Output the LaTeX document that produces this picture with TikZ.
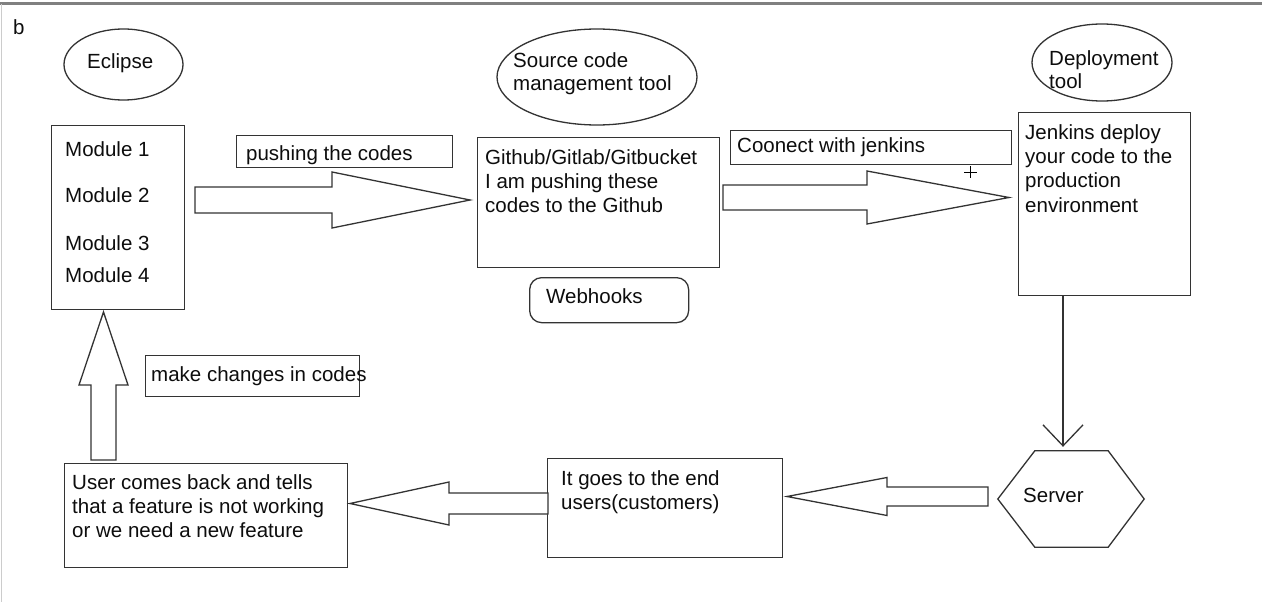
\documentclass[tikz,border=0pt]{standalone}
\usepackage{fontspec}
\setmainfont{Liberation Sans}
\usetikzlibrary{calc,arrows.meta,shapes.geometric}
\def\bigarrow[#1](#2)(#3:#4:#5:#6:#7){\draw[#1, shift={(#2)}, rotate=#3] (0,-#6) -- (#4,-#6) -- (#4,-#7) -- (#5,0) -- (#4,#7) -- (#4,#6) -- (0,#6) -- cycle;}

\begin{document}
\begin{tikzpicture}[x=1pt, y=-1pt,
		boxline/.style={draw=black!80, line width=1.3pt},
		box/.style={boxline, rectangle, inner sep=0pt, anchor=north west},
		oval/.style={boxline, ellipse, inner sep=0pt},
		txt/.style={inner sep=0pt, anchor=north west, align=left, text=black!95, font=\fontsize{20.5}{24}\selectfont},
		link/.style={boxline, -{Straight Barb[length=21pt, width=40pt]}},
		bigarr/.style={boxline, fill=white}]
		%%%%% START %%%%%
		
		\fill[white] (0,0) rectangle (1262,602);
		\useasboundingbox (0,0) rectangle (1262,602);
		\draw[black!50, line width=3pt] (0,4) -- (1262,4);
		\draw[black!20, line width=1pt] (1,4) -- (1,602);
		\node[txt] (tag) at (13,19) {b};
		
		\node[oval, minimum width=119, minimum height=71] (eclipse) at (123.5,64.5) {};
		\node[txt] (eclipseT) at (87,53) {Eclipse};
		\node[oval, minimum width=200, minimum height=96] (scm) at (597,77) {};
		\node[txt, font=\fontsize{20.5}{23}\selectfont] (scmT) at (513,52.5) {Source code\\management tool};
		\node[oval, minimum width=140, minimum height=77] (deploy) at (1102,62.5) {};
		\node[txt, font=\fontsize{20.5}{23}\selectfont] (deployT) at (1049,50) {Deployment\\tool};
		
		\node[box, minimum width=133, minimum height=184] (mods) at (51,125) {};
		\node[txt] (modsT) at (65,141.5) {Module 1\\[22pt]Module 2\\[24pt]Module 3\\[8pt]Module 4};
		\node[box, minimum width=216, minimum height=32] (push) at (236,134.5) {};
		\node[txt] (pushT) at (246,145.5) {pushing the codes};
		\node[box, minimum width=242, minimum height=130] (github) at (477,137) {};
		\node[txt] (githubT) at (485,149.5) {Github/Gitlab/Gitbucket\\I am pushing these\\codes to the Github};
		\node[box, rounded corners=12pt, minimum width=159, minimum height=45] (hooks) at (529,277) {};
		\node[txt] (hooksT) at (546,288) {Webhooks};
		\node[box, minimum width=281, minimum height=33.5] (connect) at (730,130) {};
		\node[txt] (connectT) at (737,137.5) {Coonect with jenkins};
		\node[box, minimum width=172, minimum height=183] (jenkins) at (1018,112) {};
		\node[txt, font=\fontsize{20.5}{24.3}\selectfont] (jenkinsT) at (1025,124.3) {Jenkins deploy\\your code to the\\production\\environment};
		
		\node[inner sep=0pt, minimum width=146, minimum height=96] (server) at (1071,499) {};
		\draw[boxline] (server.west) -- ($(server.north west)+(37,0)$) -- ($(server.north east)+(-36,0)$) -- (server.east) -- ($(server.south east)+(-36,0)$) -- ($(server.south west)+(37,0)$) -- cycle;
		\node[txt] (serverT) at (1023,488) {Server};
		\node[box, minimum width=235, minimum height=99] (endusers) at (547,458) {};
		\node[txt] (endusersT) at (561,470) {It goes to the end\\users(customers)};
		\node[box, minimum width=283, minimum height=104] (user) at (64,463) {};
		\node[txt] (userT) at (72,474) {User comes back and tells\\that a feature is not working\\or we need a new feature};
		\node[box, minimum width=214, minimum height=41] (change) at (145,355) {};
		\node[txt] (changeT) at (151,366.5) {make changes in codes};
		
		\bigarrow[bigarr](195,200)(0:137:275:13:28);
		\bigarrow[bigarr](723,197.5)(0:144:286:12.5:26.5);
		\bigarrow[bigarr](988,496.5)(180:101:201:9.5:19);
		\bigarrow[bigarr](548,503.5)(180:99:198:10.5:21.5);
		\bigarrow[bigarr](103.5,460)(90:75:148:12.5:24.5);
		
		\draw[link, shorten >=4pt] ($(jenkins.south west)+(45,0)$) coordinate (drop) -- (drop |- server.north);
		
		\draw[black, line width=0.8pt] (964,172) -- (977,172) (970.5,166) -- (970.5,178);
		
		%%%%% END %%%%%
	\end{tikzpicture}
\end{document}
